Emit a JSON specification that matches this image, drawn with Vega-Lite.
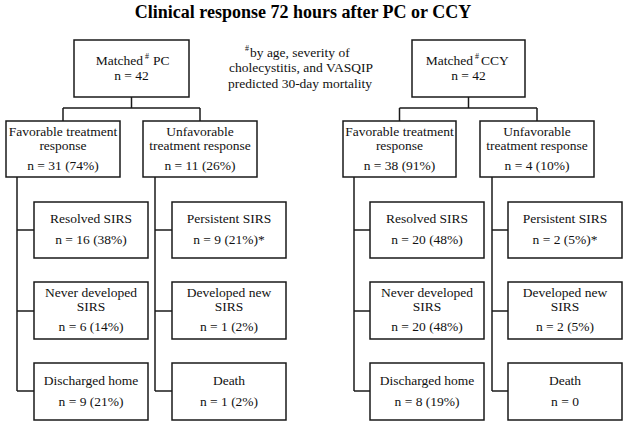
{
  "$schema": "https://vega.github.io/schema/vega-lite/v6.json",
  "width": 629,
  "height": 426,
  "padding": 0,
  "autosize": {"type": "none"},
  "background": "white",
  "config": {"view": {"stroke": null}},
  "datasets": {
    "boxes": [
      {"x": 74, "x2": 189, "y": 40, "y2": 97},
      {"x": 412, "x2": 525, "y": 40, "y2": 97},
      {"x": 6, "x2": 120, "y": 121, "y2": 177},
      {"x": 143, "x2": 257, "y": 121, "y2": 177},
      {"x": 343, "x2": 456, "y": 121, "y2": 177},
      {"x": 480, "x2": 594, "y": 121, "y2": 177},
      {"x": 34, "x2": 148, "y": 202, "y2": 258},
      {"x": 172, "x2": 286, "y": 202, "y2": 258},
      {"x": 370, "x2": 484, "y": 202, "y2": 258},
      {"x": 508, "x2": 622, "y": 202, "y2": 258},
      {"x": 34, "x2": 148, "y": 282, "y2": 339},
      {"x": 172, "x2": 286, "y": 282, "y2": 339},
      {"x": 370, "x2": 484, "y": 282, "y2": 339},
      {"x": 508, "x2": 622, "y": 282, "y2": 339},
      {"x": 34, "x2": 148, "y": 363, "y2": 420},
      {"x": 172, "x2": 286, "y": 363, "y2": 420},
      {"x": 370, "x2": 484, "y": 363, "y2": 420},
      {"x": 508, "x2": 622, "y": 363, "y2": 420}
    ],
    "lines": [
      {"x": 131.5, "x2": 131.5, "y": 97, "y2": 108},
      {"x": 63, "x2": 200, "y": 108, "y2": 108},
      {"x": 63, "x2": 63, "y": 108, "y2": 121},
      {"x": 200, "x2": 200, "y": 108, "y2": 121},
      {"x": 17, "x2": 17, "y": 177, "y2": 391},
      {"x": 155, "x2": 155, "y": 177, "y2": 391},
      {"x": 17, "x2": 34, "y": 230, "y2": 230},
      {"x": 17, "x2": 34, "y": 311, "y2": 311},
      {"x": 17, "x2": 34, "y": 391, "y2": 391},
      {"x": 155, "x2": 172, "y": 230, "y2": 230},
      {"x": 155, "x2": 172, "y": 311, "y2": 311},
      {"x": 155, "x2": 172, "y": 391, "y2": 391},
      {"x": 468.5, "x2": 468.5, "y": 97, "y2": 108},
      {"x": 399.5, "x2": 537, "y": 108, "y2": 108},
      {"x": 399.5, "x2": 399.5, "y": 108, "y2": 121},
      {"x": 537, "x2": 537, "y": 108, "y2": 121},
      {"x": 354, "x2": 354, "y": 177, "y2": 391},
      {"x": 492, "x2": 492, "y": 177, "y2": 391},
      {"x": 354, "x2": 370, "y": 230, "y2": 230},
      {"x": 354, "x2": 370, "y": 311, "y2": 311},
      {"x": 354, "x2": 370, "y": 391, "y2": 391},
      {"x": 492, "x2": 508, "y": 230, "y2": 230},
      {"x": 492, "x2": 508, "y": 311, "y2": 311},
      {"x": 492, "x2": 508, "y": 391, "y2": 391}
    ],
    "texts": [
      {"t": "Clinical response 72 hours after PC or CCY", "x": 303, "y": 13, "k": "title"},
      {"t": "Matched", "x": 143, "y": 61, "k": "r"},
      {"t": "#", "x": 147, "y": 57, "k": "sup"},
      {"t": "PC", "x": 153, "y": 61, "k": "l"},
      {"t": "n = 42", "x": 131.5, "y": 76, "k": "c"},
      {"t": "Matched", "x": 473, "y": 61, "k": "r"},
      {"t": "#", "x": 477, "y": 57, "k": "sup"},
      {"t": "CCY", "x": 481, "y": 61, "k": "l"},
      {"t": "n = 42", "x": 468.5, "y": 76, "k": "c"},
      {"t": "#", "x": 247, "y": 49, "k": "sup"},
      {"t": "by age, severity of", "x": 250, "y": 53, "k": "l"},
      {"t": "cholecystitis, and VASQIP", "x": 301, "y": 68, "k": "c"},
      {"t": "predicted 30-day mortality", "x": 300, "y": 84, "k": "c"},
      {"t": "Favorable treatment", "x": 63, "y": 132, "k": "c"},
      {"t": "response", "x": 63, "y": 146, "k": "c"},
      {"t": "n = 31 (74%)", "x": 63, "y": 166, "k": "c"},
      {"t": "Unfavorable", "x": 200, "y": 132, "k": "c"},
      {"t": "treatment response", "x": 200, "y": 146, "k": "c"},
      {"t": "n = 11 (26%)", "x": 200, "y": 166, "k": "c"},
      {"t": "Favorable treatment", "x": 399.5, "y": 132, "k": "c"},
      {"t": "response", "x": 399.5, "y": 146, "k": "c"},
      {"t": "n = 38 (91%)", "x": 399.5, "y": 166, "k": "c"},
      {"t": "Unfavorable", "x": 537, "y": 132, "k": "c"},
      {"t": "treatment response", "x": 537, "y": 146, "k": "c"},
      {"t": "n = 4 (10%)", "x": 537, "y": 166, "k": "c"},
      {"t": "Resolved SIRS", "x": 91, "y": 219, "k": "c"},
      {"t": "n = 16 (38%)", "x": 91, "y": 240, "k": "c"},
      {"t": "Persistent SIRS", "x": 229, "y": 219, "k": "c"},
      {"t": "n = 9 (21%)*", "x": 229, "y": 240, "k": "c"},
      {"t": "Resolved SIRS", "x": 427, "y": 219, "k": "c"},
      {"t": "n = 20 (48%)", "x": 427, "y": 240, "k": "c"},
      {"t": "Persistent SIRS", "x": 565, "y": 219, "k": "c"},
      {"t": "n = 2 (5%)*", "x": 565, "y": 240, "k": "c"},
      {"t": "Never developed", "x": 91, "y": 293, "k": "c"},
      {"t": "SIRS", "x": 91, "y": 307, "k": "c"},
      {"t": "n = 6 (14%)", "x": 91, "y": 327, "k": "c"},
      {"t": "Developed new", "x": 229, "y": 293, "k": "c"},
      {"t": "SIRS", "x": 229, "y": 307, "k": "c"},
      {"t": "n = 1 (2%)", "x": 229, "y": 327, "k": "c"},
      {"t": "Never developed", "x": 427, "y": 293, "k": "c"},
      {"t": "SIRS", "x": 427, "y": 307, "k": "c"},
      {"t": "n = 20 (48%)", "x": 427, "y": 327, "k": "c"},
      {"t": "Developed new", "x": 565, "y": 293, "k": "c"},
      {"t": "SIRS", "x": 565, "y": 307, "k": "c"},
      {"t": "n = 2 (5%)", "x": 565, "y": 327, "k": "c"},
      {"t": "Discharged home", "x": 91, "y": 381, "k": "c"},
      {"t": "n = 9 (21%)", "x": 91, "y": 402, "k": "c"},
      {"t": "Death", "x": 229, "y": 381, "k": "c"},
      {"t": "n = 1 (2%)", "x": 229, "y": 402, "k": "c"},
      {"t": "Discharged home", "x": 427, "y": 381, "k": "c"},
      {"t": "n = 8 (19%)", "x": 427, "y": 402, "k": "c"},
      {"t": "Death", "x": 565, "y": 381, "k": "c"},
      {"t": "n = 0", "x": 565, "y": 402, "k": "c"}
    ]
  },
  "layer": [
    {
      "data": {"name": "lines"},
      "mark": {"type": "rule", "color": "#1a1a1a", "strokeWidth": 1.5},
      "encoding": {
        "x": {"field": "x", "type": "quantitative", "scale": {"domain": [0, 629]}, "axis": null},
        "x2": {"field": "x2"},
        "y": {"field": "y", "type": "quantitative", "scale": {"domain": [0, 426], "reverse": true}, "axis": null},
        "y2": {"field": "y2"}
      }
    },
    {
      "data": {"name": "boxes"},
      "mark": {"type": "rect", "fill": "white", "stroke": "#1a1a1a", "strokeWidth": 1.5},
      "encoding": {
        "x": {"field": "x", "type": "quantitative", "scale": {"domain": [0, 629]}, "axis": null},
        "x2": {"field": "x2"},
        "y": {"field": "y", "type": "quantitative", "scale": {"domain": [0, 426], "reverse": true}, "axis": null},
        "y2": {"field": "y2"}
      }
    },
    {
      "data": {"name": "texts"},
      "transform": [{"filter": "datum.k === 'c'"}],
      "mark": {"type": "text", "font": "Liberation Serif", "fontSize": 13.5, "align": "center", "baseline": "middle", "color": "#111"},
      "encoding": {
        "x": {"field": "x", "type": "quantitative", "scale": {"domain": [0, 629]}, "axis": null},
        "y": {"field": "y", "type": "quantitative", "scale": {"domain": [0, 426], "reverse": true}, "axis": null},
        "text": {"field": "t"}
      }
    },
    {
      "data": {"name": "texts"},
      "transform": [{"filter": "datum.k === 'l'"}],
      "mark": {"type": "text", "font": "Liberation Serif", "fontSize": 13.5, "align": "left", "baseline": "middle", "color": "#111"},
      "encoding": {
        "x": {"field": "x", "type": "quantitative", "scale": {"domain": [0, 629]}, "axis": null},
        "y": {"field": "y", "type": "quantitative", "scale": {"domain": [0, 426], "reverse": true}, "axis": null},
        "text": {"field": "t"}
      }
    },
    {
      "data": {"name": "texts"},
      "transform": [{"filter": "datum.k === 'r'"}],
      "mark": {"type": "text", "font": "Liberation Serif", "fontSize": 13.5, "align": "right", "baseline": "middle", "color": "#111"},
      "encoding": {
        "x": {"field": "x", "type": "quantitative", "scale": {"domain": [0, 629]}, "axis": null},
        "y": {"field": "y", "type": "quantitative", "scale": {"domain": [0, 426], "reverse": true}, "axis": null},
        "text": {"field": "t"}
      }
    },
    {
      "data": {"name": "texts"},
      "transform": [{"filter": "datum.k === 'sup'"}],
      "mark": {"type": "text", "font": "Liberation Serif", "fontSize": 8, "align": "center", "baseline": "middle", "color": "#111"},
      "encoding": {
        "x": {"field": "x", "type": "quantitative", "scale": {"domain": [0, 629]}, "axis": null},
        "y": {"field": "y", "type": "quantitative", "scale": {"domain": [0, 426], "reverse": true}, "axis": null},
        "text": {"field": "t"}
      }
    },
    {
      "data": {"name": "texts"},
      "transform": [{"filter": "datum.k === 'title'"}],
      "mark": {"type": "text", "font": "Liberation Serif", "fontSize": 18, "fontWeight": "bold", "align": "center", "baseline": "middle", "color": "#000"},
      "encoding": {
        "x": {"field": "x", "type": "quantitative", "scale": {"domain": [0, 629]}, "axis": null},
        "y": {"field": "y", "type": "quantitative", "scale": {"domain": [0, 426], "reverse": true}, "axis": null},
        "text": {"field": "t"}
      }
    }
  ]
}
